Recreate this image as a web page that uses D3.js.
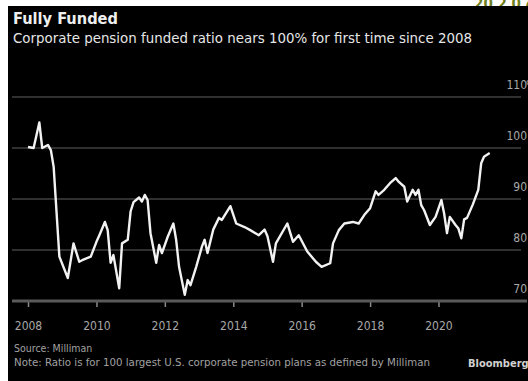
<!DOCTYPE html>
<html>
<head>
<meta charset="utf-8">
<script src="https://cdn.jsdelivr.net/npm/d3@7"></script>
<style>
  html, body { margin: 0; padding: 0; background: #fff; }
  svg { display: block; }
</style>
</head>
<body>
<svg id="chart" width="528" height="381"></svg>
<script>
// Milliman 100 corporate pension funded ratio (%), month-end readings
const months = [
  "2008-01","2008-03","2008-05","2008-06","2008-08","2008-09","2008-10","2008-12",
  "2009-03","2009-05","2009-07","2009-08","2009-11",
  "2010-01","2010-02","2010-04","2010-05","2010-06","2010-07","2010-09","2010-10","2010-12",
  "2011-01","2011-02","2011-04","2011-05","2011-06","2011-07","2011-08","2011-10","2011-11","2011-12",
  "2012-02","2012-04","2012-05","2012-06","2012-08","2012-09","2012-10","2012-12",
  "2013-02","2013-03","2013-04","2013-06","2013-08","2013-09","2013-12",
  "2014-02","2014-05","2014-07","2014-10","2014-12",
  "2015-01","2015-03","2015-04","2015-08","2015-10","2015-12",
  "2016-03","2016-06","2016-08","2016-11","2016-12",
  "2017-02","2017-04","2017-07","2017-09","2017-11",
  "2018-01","2018-03","2018-04","2018-06","2018-08","2018-10","2018-11",
  "2019-01","2019-02","2019-04","2019-05","2019-06","2019-07","2019-08","2019-10","2019-12",
  "2020-02","2020-03","2020-04","2020-05","2020-07","2020-08","2020-09","2020-10","2020-11",
  "2021-01","2021-03","2021-04","2021-05","2021-07"
];
const ratio = [
  100.2,100.0,105.0,100.0,100.6,99.6,96.3,78.7,
  74.5,81.3,77.7,78.0,78.7,
  81.6,82.9,85.5,83.9,77.5,79.0,72.5,81.3,82.0,
  87.6,89.4,90.3,89.5,90.8,89.8,83.3,77.5,81.0,79.4,
  82.6,85.2,82.0,76.7,71.2,74.1,73.1,76.7,
  80.7,82.0,79.4,84.0,86.3,85.9,88.6,
  85.2,84.5,83.9,82.9,84.0,
  82.7,77.7,81.3,85.2,81.6,82.9,
  79.7,77.7,76.7,77.4,81.3,
  83.9,85.2,85.5,85.2,86.9,
  88.2,91.5,90.8,91.8,93.1,94.1,93.4,
  92.4,89.5,91.8,90.8,91.8,88.8,87.8,84.9,86.5,
  89.8,87.2,83.3,86.5,84.9,84.2,82.3,86.0,86.3,
  88.9,91.8,97.0,98.3,99.0
];
const yTicks = [70, 80, 90, 100, 110];
const xTickYears = [2008, 2010, 2012, 2014, 2016, 2018, 2020];

const title = "Fully Funded";
const subtitle = "Corporate pension funded ratio nears 100% for first time since 2008";
const sourceText = "Source: Milliman";
const noteText = "Note: Ratio is for 100 largest U.S. corporate pension plans as defined by Milliman";

const parseMonth = d3.timeParse("%Y-%m");
const data = months.map((m, i) => ({ date: parseMonth(m), value: ratio[i] }));

const svg = d3.select("#chart");
const condensed = "'DejaVu Sans Condensed', 'Liberation Sans Narrow', 'DejaVu Sans', sans-serif";

// stray header text above the panel, mostly hidden behind it
svg.append("text")
  .attr("x", 474).attr("y", 9)
  .attr("fill", "#6f7f22")
  .attr("font-family", condensed)
  .attr("font-weight", "bold")
  .attr("font-size", 15)
  .text("20 2 0 4");

// dark panel
svg.append("rect")
  .attr("x", 8).attr("y", 6)
  .attr("width", 520).attr("height", 375)
  .attr("fill", "#000");

const x = d3.scaleTime()
  .domain([new Date(2008, 0, 1), new Date(2021, 6, 1)])
  .range([28, 489.7]);

const y = d3.scaleLinear()
  .domain([70, 110])
  .range([301, 97]);

// horizontal gridlines
svg.append("g")
  .selectAll("line")
  .data(yTicks.filter(v => v > 70))
  .join("line")
  .attr("x1", 12).attr("x2", 521)
  .attr("y1", d => y(d)).attr("y2", d => y(d))
  .attr("stroke", "#303030")
  .attr("stroke-width", 2);

// y tick labels sit above their gridlines, right edge
svg.append("g")
  .selectAll("text")
  .data(yTicks)
  .join("text")
  .attr("x", 527)
  .attr("y", d => y(d) - 8)
  .attr("text-anchor", "end")
  .attr("fill", "#a8a8a8")
  .attr("font-family", condensed)
  .attr("font-size", 12)
  .text(d => d);

svg.append("text")
  .attr("x", 526)
  .attr("y", y(110) - 8)
  .attr("fill", "#a8a8a8")
  .attr("font-family", condensed)
  .attr("font-size", 12)
  .text("%");

// x axis
const xAxis = d3.axisBottom(x)
  .tickValues(xTickYears.map(yr => new Date(yr, 0, 1)))
  .tickFormat(d3.timeFormat("%Y"))
  .tickSize(6)
  .tickPadding(14);

const gx = svg.append("g")
  .attr("transform", `translate(0,${y(70)})`)
  .call(xAxis);
gx.select(".domain").remove();
gx.selectAll(".tick line").attr("stroke", "#8a8a8a").attr("stroke-width", 1.5);
gx.selectAll(".tick text")
  .attr("fill", "#a8a8a8")
  .attr("font-family", condensed)
  .attr("font-size", 12);

svg.append("line")
  .attr("x1", 12).attr("x2", 527)
  .attr("y1", y(70)).attr("y2", y(70))
  .attr("stroke", "#5a5a5a")
  .attr("stroke-width", 3);

// funded ratio line
const line = d3.line()
  .x(d => x(d.date))
  .y(d => y(d.value));

svg.append("path")
  .datum(data)
  .attr("fill", "none")
  .attr("stroke", "#f2f2f2")
  .attr("stroke-width", 2.4)
  .attr("stroke-linejoin", "round")
  .attr("d", line);

// titles
svg.append("text")
  .attr("x", 13).attr("y", 24)
  .attr("fill", "#eeeeee")
  .attr("font-family", condensed)
  .attr("font-weight", "bold")
  .attr("font-size", 15.5)
  .attr("textLength", 105)
  .attr("lengthAdjust", "spacingAndGlyphs")
  .text(title);

svg.append("text")
  .attr("x", 13).attr("y", 43)
  .attr("fill", "#e6e6e6")
  .attr("font-family", condensed)
  .attr("font-size", 14.5)
  .attr("textLength", 459)
  .attr("lengthAdjust", "spacingAndGlyphs")
  .text(subtitle);

// footer
svg.append("text")
  .attr("x", 14).attr("y", 352)
  .attr("fill", "#a0a0a0")
  .attr("font-family", condensed)
  .attr("font-size", 10.5)
  .text(sourceText);

svg.append("text")
  .attr("x", 14).attr("y", 366)
  .attr("fill", "#a0a0a0")
  .attr("font-family", condensed)
  .attr("font-size", 10.5)
  .attr("textLength", 416)
  .attr("lengthAdjust", "spacingAndGlyphs")
  .text(noteText);

svg.append("text")
  .attr("x", 468).attr("y", 367)
  .attr("fill", "#d0d0d0")
  .attr("font-family", condensed)
  .attr("font-weight", "bold")
  .attr("font-size", 11)
  .text("Bloomberg");
</script>
</body>
</html>
